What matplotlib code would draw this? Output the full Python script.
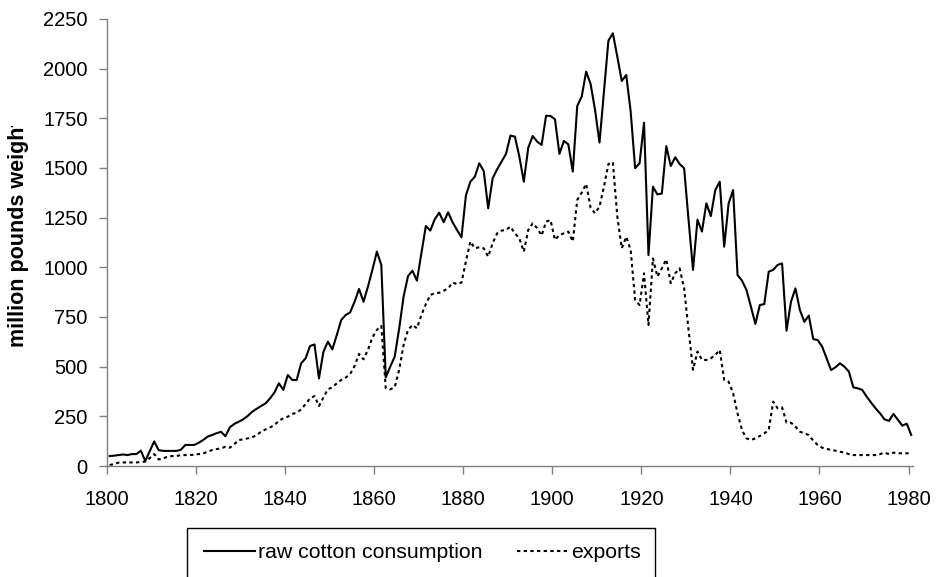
import numpy as np
import matplotlib
matplotlib.use("Agg")
import matplotlib.pyplot as plt
from matplotlib.patches import Rectangle
from matplotlib.transforms import Bbox, TransformedBbox

plt.rcParams['font.family'] = ['Liberation Sans', 'DejaVu Sans']

# years 1800..1980, one value per year (million lb)
years = np.arange(1800, 1981)

consumption = [
    50, 52, 55, 58, 55, 60, 60, 77, 25, 75,            # 1800s
    124, 80, 76, 76, 76, 76, 82, 106, 106, 106,        # 1810s
    117, 131, 148, 156, 165, 172, 150, 195, 212, 223,  # 1820s
    235, 252, 273, 288, 302, 315, 340, 370, 416, 383,  # 1830s
    458, 433, 433, 517, 542, 604, 612, 441, 575, 626,  # 1840s
    587, 659, 735, 760, 773, 827, 891, 827, 903, 987,  # 1850s
    1079, 1012, 446, 500, 550, 690, 852, 956, 983, 933,        # 1860s
    1071, 1208, 1185, 1242, 1275, 1227, 1277, 1227, 1188, 1151,  # 1870s
    1362, 1431, 1456, 1524, 1485, 1297, 1448, 1493, 1532, 1571,  # 1880s
    1663, 1658, 1557, 1431, 1602, 1661, 1633, 1616, 1763, 1762,  # 1890s
    1745, 1571, 1636, 1619, 1482, 1812, 1859, 1985, 1923, 1792,  # 1900s
    1628, 1884, 2141, 2178, 2060, 1938, 1968, 1784, 1499, 1524,  # 1910s
    1728, 1062, 1406, 1367, 1372, 1610, 1510, 1554, 1520, 1499,  # 1920s
    1238, 987, 1240, 1180, 1322, 1258, 1389, 1431, 1104, 1322,   # 1930s
    1389, 961, 933, 886, 802, 715, 810, 815, 978, 987,           # 1940s
    1012, 1020, 681, 827, 894, 785, 726, 757, 639, 634,          # 1950s
    601, 542, 483, 497, 517, 500, 475, 396, 391, 383,            # 1960s
    349, 319, 290, 265, 235, 227, 262, 233, 203, 213,            # 1970s
    156,                                                         # 1980
]

exports = [
    5, 10, 17, 18, 18, 18, 18, 20, 22, 40,             # 1800s
    60, 33, 38, 47, 50, 50, 55, 55, 55, 57,            # 1810s
    60, 63, 72, 80, 85, 89, 97, 92, 110, 131,          # 1820s
    134, 139, 145, 155, 173, 184, 194, 206, 228, 240,  # 1830s
    248, 262, 268, 285, 312, 341, 352, 302, 345, 386,  # 1840s
    396, 416, 433, 445, 463, 503, 564, 537, 584, 647,  # 1850s
    685, 705, 392, 386, 396, 483, 609, 685, 710, 693,  # 1860s
    760, 815, 861, 869, 872, 882, 894, 923, 916, 923,  # 1870s
    1030, 1130, 1096, 1101, 1096, 1054, 1121, 1171, 1185, 1188,  # 1880s
    1205, 1171, 1146, 1079, 1188, 1222, 1197, 1160, 1230, 1238,  # 1890s
    1138, 1163, 1171, 1180, 1130, 1339, 1376, 1420, 1300, 1272,  # 1900s
    1306, 1406, 1520, 1529, 1255, 1096, 1154, 1087, 836, 810,    # 1910s
    970, 710, 1045, 953, 995, 1040, 920, 970, 995, 895,          # 1920s
    685, 484, 576, 534, 534, 542, 559, 584, 433, 424,            # 1930s
    366, 265, 181, 139, 131, 139, 151, 164, 181, 324,            # 1940s
    290, 295, 218, 218, 198, 173, 164, 156, 127, 106,            # 1950s
    92, 86, 81, 77, 72, 67, 60, 55, 55, 55,                      # 1960s
    55, 55, 55, 60, 67, 60, 67, 64, 64, 64,                      # 1970s
    64,                                                          # 1980
]

xticks = list(range(1800, 1981, 20))
yticks = list(range(0, 2251, 250))

# values are plotted at mid-year
x = years + 0.6

fig = plt.figure(figsize=(9.38, 5.77), dpi=100)
ax = fig.add_axes([107 / 938, 1 - 466 / 577, 806 / 938, 447 / 577])

line1, = ax.plot(x, consumption, color='black', lw=1.5, label='raw cotton consumption')
line2, = ax.plot(x, exports, color='black', lw=1.5, linestyle=(0, (1.6, 1.6)), label='exports')

ax.set_xlim(1800, 1981)
ax.set_ylim(0, 2250)
ax.set_xticks(xticks)
ax.set_yticks(yticks)
ax.tick_params(axis='both', which='major', labelsize=14.5, color='#808080',
               direction='out', length=6, width=1)
ax.tick_params(axis='x', pad=11)
ax.tick_params(axis='y', pad=8)

for side in ['top', 'right']:
    ax.spines[side].set_visible(False)
for side in ['left', 'bottom']:
    ax.spines[side].set_color('#808080')
    ax.spines[side].set_linewidth(1)

# y label, clipped at the top as in the source
ylab = fig.text(19 / 938, 1 - 347 / 577, 'million pounds weight', rotation=90,
                ha='center', va='bottom', fontsize=15.5, fontweight='bold')
clip = TransformedBbox(Bbox([[0, 0], [1, 1 - 126 / 577]]), fig.transFigure)
ylab.set_clip_box(clip)
ylab.set_clip_on(True)

# legend, box runs off the bottom edge
fig.legend(handles=[line1, line2], loc='center left',
           bbox_to_anchor=(204 / 938, 1 - 553 / 577), ncol=2, frameon=False,
           fontsize=15.3, handlelength=2.4, handletextpad=0.15, columnspacing=1.6,
           borderpad=0, borderaxespad=0)
fig.add_artist(Rectangle((187 / 938, 1 - 620 / 577), 468 / 938, 92 / 577,
                         transform=fig.transFigure, fill=False,
                         edgecolor='black', lw=1))

fig.savefig('out.png', dpi=100)
